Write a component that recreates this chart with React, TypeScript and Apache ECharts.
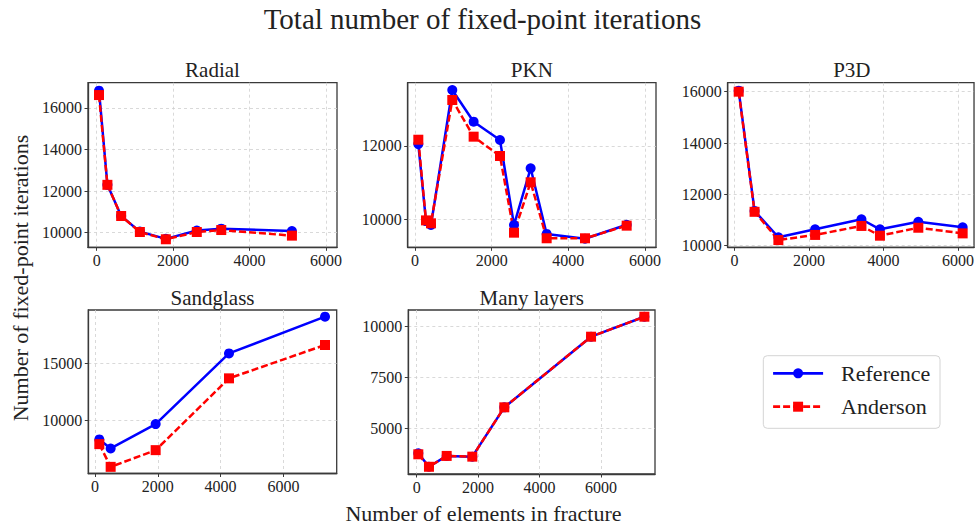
import React, { useEffect, useRef } from 'react';
import * as echarts from 'echarts';

const SERIF = '"Liberation Serif", "DejaVu Serif", serif';

// Number of elements in the fracture (x) and total fixed-point iterations (y)
const radialX = [60, 280, 640, 1130, 1810, 2620, 3260, 5110];
const radialRef = [16830, 12300, 10800, 10050, 9700, 10100, 10190, 10080];
const radialAnd = [16620, 12300, 10800, 10030, 9680, 10030, 10125, 9855];

const pknX = [87, 287, 417, 973, 1530, 2217, 2583, 3017, 3435, 4435, 5522];
const pknRef = [12050, 9950, 9845, 13526, 12662, 12163, 9845, 11390, 9600, 9470, 9850];
const pknAnd = [12170, 9970, 9890, 13253, 12253, 11726, 9635, 11009, 9482, 9482, 9826];

const p3dX = [115, 541, 1180, 2166, 3409, 3906, 4935, 6125];
const p3dRef = [16040, 11354, 10330, 10640, 11030, 10640, 10935, 10717];
const p3dAnd = [16000, 11320, 10220, 10420, 10770, 10390, 10700, 10480];

const sandX = [138, 499, 1932, 4267, 7325];
const sandRef = [8297, 7500, 9647, 15880, 19115];
const sandAnd = [7882, 5880, 7353, 13680, 16620];

const layersX = [53, 400, 977, 1811, 2853, 5678, 7414];
const layersRef = [3780, 3120, 3650, 3615, 6026, 9477, 10454];
const layersAnd = [3730, 3120, 3650, 3615, 6026, 9477, 10454];

// Tick values per panel
const xTicks = [0, 2000, 4000, 6000];
const radialYTicks = [10000, 12000, 14000, 16000];
const pknYTicks = [10000, 12000];
const p3dYTicks = [10000, 12000, 14000, 16000];
const sandYTicks = [10000, 15000];
const layersYTicks = [5000, 7500, 10000];

const panelTitles = ['Radial', 'PKN', 'P3D', 'Sandglass', 'Many layers'];
const seriesNames = ['Reference', 'Anderson'];

const panels = [
  { x: radialX, ref: radialRef, and: radialAnd, yTicks: radialYTicks },
  { x: pknX, ref: pknRef, and: pknAnd, yTicks: pknYTicks },
  { x: p3dX, ref: p3dRef, and: p3dAnd, yTicks: p3dYTicks },
  { x: sandX, ref: sandRef, and: sandAnd, yTicks: sandYTicks },
  { x: layersX, ref: layersRef, and: layersAnd, yTicks: layersYTicks },
];

// Panel geometry and view limits
const layout = [
  { left: 88, top: 82.7, width: 249, height: 164.6, xr: [-228, 6290], yr: [9294, 17215] },
  { left: 407.7, top: 82.7, width: 248.3, height: 164.6, xr: [-190, 6287], yr: [9236, 13725] },
  { left: 727.7, top: 82.7, width: 248.3, height: 164.6, xr: [-180, 6430], yr: [9938, 16350] },
  { left: 88.3, top: 310, width: 248.4, height: 163.5, xr: [-213, 7697], yr: [5294, 19704] },
  { left: 408.3, top: 310, width: 246.7, height: 164, xr: [-273, 7760], yr: [2767, 10782] },
];

const SPINE = '#3a3a3a';
const BLUE = '#0000ff';
const RED = '#ff0000';

function buildOption() {
  const grid: any[] = [];
  const xAxis: any[] = [];
  const yAxis: any[] = [];
  const series: any[] = [];
  const graphic: any[] = [];

  const tickLabel = {
    fontFamily: SERIF,
    fontSize: 16,
    color: '#222',
    formatter: (v: number) => String(v),
  };

  panels.forEach((p, i) => {
    const L = layout[i];
    grid.push({
      left: L.left,
      top: L.top,
      width: L.width,
      height: L.height,
      show: true,
      borderColor: SPINE,
      borderWidth: 1.3,
      backgroundColor: 'transparent',
      containLabel: false,
    });
    xAxis.push({
      type: 'value',
      gridIndex: i,
      min: L.xr[0],
      max: L.xr[1],
      axisLine: { show: true, onZero: false, lineStyle: { color: SPINE, width: 1.3 } },
      axisTick: { show: true, length: 3.5, lineStyle: { color: SPINE, width: 1 }, customValues: xTicks },
      axisLabel: { ...tickLabel, margin: 5, customValues: xTicks },
      splitLine: { show: true, lineStyle: { color: '#cfcfcf', width: 0.8, type: [3, 3] } },
    });
    yAxis.push({
      type: 'value',
      gridIndex: i,
      min: L.yr[0],
      max: L.yr[1],
      axisLine: { show: true, onZero: false, lineStyle: { color: SPINE, width: 1.3 } },
      axisTick: { show: true, length: 3.5, lineStyle: { color: SPINE, width: 1 }, customValues: p.yTicks },
      axisLabel: { ...tickLabel, margin: 6, customValues: p.yTicks },
      splitLine: { show: true, lineStyle: { color: '#cfcfcf', width: 0.8, type: [3, 3] } },
    });
    series.push({
      type: 'line',
      name: seriesNames[0],
      xAxisIndex: i,
      yAxisIndex: i,
      data: p.x.map((x, k) => [x, p.ref[k]]),
      symbol: 'circle',
      symbolSize: 10,
      showSymbol: true,
      itemStyle: { color: BLUE },
      lineStyle: { color: BLUE, width: 2.5 },
      emphasis: { disabled: true },
    });
    series.push({
      type: 'line',
      name: seriesNames[1],
      xAxisIndex: i,
      yAxisIndex: i,
      data: p.x.map((x, k) => [x, p.and[k]]),
      symbol: 'rect',
      symbolSize: 10,
      showSymbol: true,
      itemStyle: { color: RED },
      lineStyle: { color: RED, width: 2.5, type: [7, 3] },
      emphasis: { disabled: true },
    });
    graphic.push({
      type: 'text',
      x: L.left + L.width / 2,
      y: i < 3 ? 70.4 : 297.7,
      style: {
        text: panelTitles[i],
        fontFamily: SERIF,
        fontSize: 21,
        fill: '#222',
        align: 'center',
        verticalAlign: 'middle',
      },
    });
  });

  graphic.push(
    {
      type: 'text',
      x: 482.5,
      y: 19,
      style: {
        text: 'Total number of fixed-point iterations',
        fontFamily: SERIF,
        fontSize: 29,
        fill: '#222',
        align: 'center',
        verticalAlign: 'middle',
      },
    },
    {
      type: 'text',
      x: 483.5,
      y: 513.4,
      style: {
        text: 'Number of elements in fracture',
        fontFamily: SERIF,
        fontSize: 22,
        fill: '#222',
        align: 'center',
        verticalAlign: 'middle',
      },
    },
    {
      type: 'text',
      x: 20.5,
      y: 278,
      rotation: Math.PI / 2,
      style: {
        text: 'Number of fixed-point iterations',
        fontFamily: SERIF,
        fontSize: 22,
        fill: '#222',
        align: 'center',
        verticalAlign: 'middle',
      },
    },
    {
      type: 'rect',
      z: 0,
      shape: { x: 763.3, y: 355.7, width: 176.7, height: 72.6, r: 4 },
      style: { fill: '#fff', stroke: '#d4d4d4', lineWidth: 1 },
    }
  );

  return {
    animation: false,
    backgroundColor: '#ffffff',
    textStyle: { fontFamily: SERIF },
    grid,
    xAxis,
    yAxis,
    series,
    graphic,
    legend: {
      data: seriesNames,
      orient: 'vertical',
      left: 771.7,
      top: 362.3,
      padding: 0,
      itemGap: 11.4,
      itemWidth: 50,
      itemHeight: 12.5,
      selectedMode: false,
      z: 10,
      lineStyle: { width: 2.8 },
      textStyle: {
        fontFamily: SERIF,
        fontSize: 22,
        lineHeight: 22,
        color: '#222',
        padding: [0, 0, 0, 13],
      },
    },
  };
}

export default function App() {
  const ref = useRef<HTMLDivElement>(null);
  useEffect(() => {
    if (!ref.current) return;
    const chart = echarts.init(ref.current, undefined, { renderer: 'svg' });
    chart.setOption(buildOption() as any);
    return () => chart.dispose();
  }, []);
  return (
    <div
      ref={ref}
      style={{ position: 'fixed', left: 0, top: 0, width: 977, height: 531, background: '#fff' }}
    />
  );
}
